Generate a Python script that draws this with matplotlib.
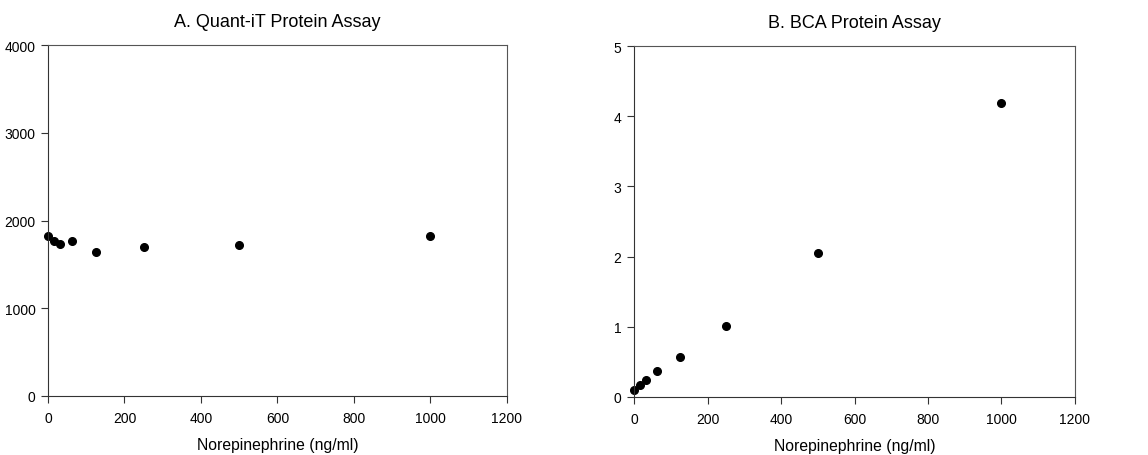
import matplotlib
matplotlib.use("Agg")
import matplotlib.pyplot as plt

plt.rcParams['font.family'] = ['Liberation Sans', 'DejaVu Sans']

# Norepinephrine concentrations (ng/ml)
conc = [0, 15.6, 31.25, 62.5, 125, 250, 500, 1000]
# A. Quant-iT readings
quantit = [1824, 1767, 1729, 1771, 1646, 1695, 1718, 1824]
# B. BCA readings
bca = [0.095, 0.166, 0.237, 0.37, 0.573, 1.014, 2.05, 4.19]

x_ticks = [0, 200, 400, 600, 800, 1000, 1200]
a_ticks = [0, 1000, 2000, 3000, 4000]
b_ticks = [0, 1, 2, 3, 4, 5]

fig = plt.figure(figsize=(11.48, 4.56), dpi=100)
ax_a = fig.add_axes([0.0418, 0.1294, 0.3998, 0.7697])
ax_b = fig.add_axes([0.5523, 0.1272, 0.3841, 0.7697])


def style_axes(ax, title, yticks):
    ax.set_xlim(0, 1200)
    ax.set_ylim(yticks[0], yticks[-1])
    ax.set_xticks(x_ticks)
    ax.set_yticks(yticks)
    ax.set_title(title, fontsize=13, pad=14)
    ax.set_xlabel('Norepinephrine (ng/ml)', fontsize=11.3, labelpad=9)
    ax.tick_params(direction='out', length=5, width=0.8, labelsize=10,
                   top=False, right=False, color='#333333')
    ax.tick_params(axis='x', pad=5.5)
    ax.tick_params(axis='y', pad=4)
    for spine in ax.spines.values():
        spine.set_color('#555555')
        spine.set_linewidth(0.8)
    ax.spines['left'].set_color('#333333')
    ax.spines['bottom'].set_color('#333333')


ax_a.plot(conc, quantit, 'o', color='black', markersize=5.5, clip_on=False)
style_axes(ax_a, 'A. Quant-iT Protein Assay', a_ticks)

ax_b.plot(conc, bca, 'o', color='black', markersize=5.5, clip_on=False)
style_axes(ax_b, 'B. BCA Protein Assay', b_ticks)

fig.savefig('out.png', dpi=100)
